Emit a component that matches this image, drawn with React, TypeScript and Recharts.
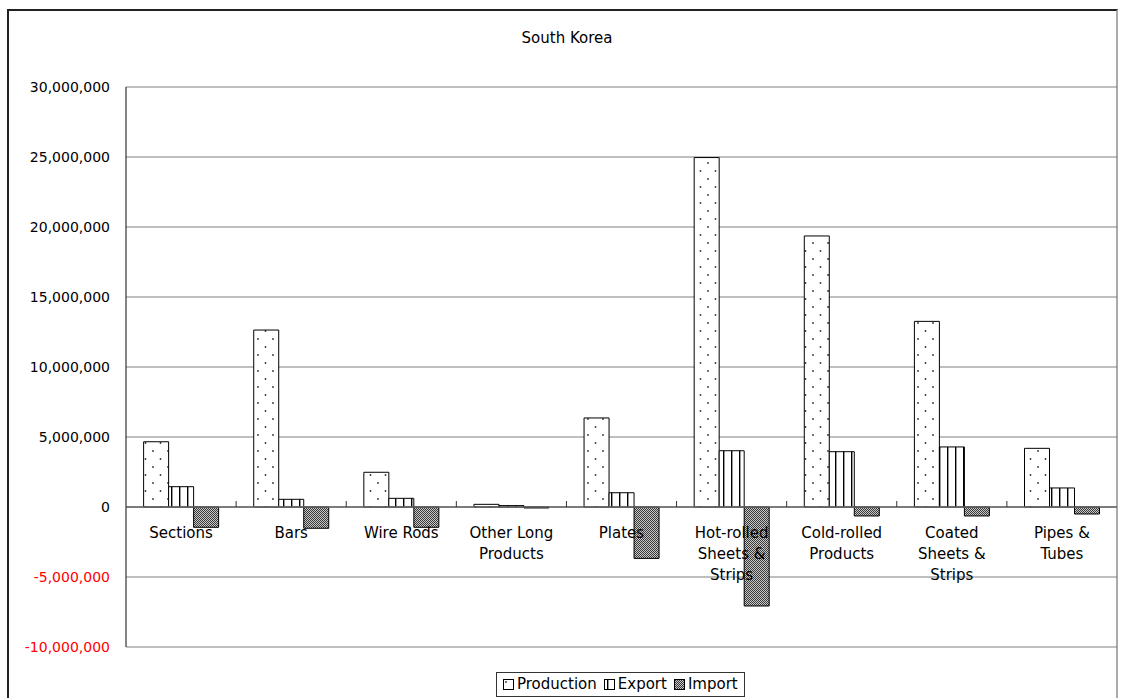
import { BarChart, Bar, XAxis, YAxis, CartesianGrid, Legend, ReferenceLine } from 'recharts';

// tonnes by product group
const categories = [
  'Sections',
  'Bars',
  'Wire Rods',
  'Other Long Products',
  'Plates',
  'Hot-rolled Sheets & Strips',
  'Cold-rolled Products',
  'Coated Sheets & Strips',
  'Pipes & Tubes',
];

// how each category name wraps under the zero line
const categoryLines = [
  ['Sections'],
  ['Bars'],
  ['Wire Rods'],
  ['Other Long', 'Products'],
  ['Plates'],
  ['Hot-rolled', 'Sheets &', 'Strips'],
  ['Cold-rolled', 'Products'],
  ['Coated', 'Sheets &', 'Strips'],
  ['Pipes &', 'Tubes'],
];

const production = [4660000, 12640000, 2480000, 190000, 6360000, 24960000, 19360000, 13260000, 4190000];
const exports = [1450000, 550000, 620000, 100000, 1020000, 4020000, 3950000, 4290000, 1360000];
const imports = [-1450000, -1520000, -1450000, -70000, -3670000, -7070000, -640000, -640000, -500000];

const yTicks = [-10000000, -5000000, 0, 5000000, 10000000, 15000000, 20000000, 25000000, 30000000];

const W = 1124;
const H = 698;
const X_AXIS_H = 20;
const M = { top: 87, right: 7, left: 0, bottom: 6 };
const Y_AXIS_W = 126;
const PLOT_H = 560;
const PLOT_W = W - Y_AXIS_W - M.right;
const Y_MIN = yTicks[0];
const Y_MAX = yTicks[yTicks.length - 1];
const ZERO_Y = M.top + (PLOT_H * Y_MAX) / (Y_MAX - Y_MIN);
const BAND = PLOT_W / categories.length;

const FONT = '"DejaVu Sans", sans-serif';

const data = categories.map((name, i) => ({
  name,
  production: production[i],
  export: exports[i],
  import: imports[i],
}));

const fmt = (v: number) => (v < 0 ? '-' : '') + Math.abs(v).toLocaleString('en-US');

const renderYTick = ({ x, y, payload }: any) => (
  <text
    x={x}
    y={y}
    dy={5}
    textAnchor="end"
    fontSize={14}
    fontFamily={FONT}
    fill={payload.value < 0 ? '#ff0000' : '#000'}
  >
    {fmt(payload.value)}
  </text>
);

// category labels sit under the zero line, with a small boundary tick between groups
const renderXTick = ({ x, payload }: any) => {
  const i = categories.indexOf(payload.value);
  const lines = categoryLines[i] ?? [payload.value];
  return (
    <g>
      {i < categories.length - 1 && (
        <line x1={x + BAND / 2} x2={x + BAND / 2} y1={ZERO_Y - 6} y2={ZERO_Y} stroke="#333" />
      )}
      <text textAnchor="middle" fontSize={15} fontFamily={FONT} fill="#000">
        {lines.map((ln: string, k: number) => (
          <tspan key={k} x={x} y={ZERO_Y + 31 + k * 21}>
            {ln}
          </tspan>
        ))}
      </text>
    </g>
  );
};

const Swatch = ({ fill }: { fill: string }) => (
  <svg width={11} height={11} style={{ marginRight: 3, verticalAlign: '-1px' }}>
    <rect x={0.5} y={0.5} width={10} height={10} fill={fill} stroke="#000" />
  </svg>
);

const LegendBox = () => (
  <div
    style={{
      display: 'inline-flex',
      alignItems: 'center',
      gap: 7,
      border: '1px solid #333',
      background: '#fff',
      padding: '2px 6px',
      fontFamily: FONT,
      fontSize: 15,
      lineHeight: '19px',
      whiteSpace: 'nowrap',
    }}
  >
    <span><Swatch fill="url(#dotFill)" />Production</span>
    <span><Swatch fill="url(#stripeFill)" />Export</span>
    <span><Swatch fill="url(#checkFill)" />Import</span>
  </div>
);

export default function App() {
  return (
    <div style={{ position: 'absolute', left: 0, top: 0, width: W, height: H, background: '#fff' }}>
      <style>{'body{margin:0}'}</style>
      {/* frame around the whole chart */}
      <div
        style={{
          position: 'absolute',
          left: 7,
          top: 9,
          width: W - 7 - 6,
          height: H + 20,
          borderLeft: '2px solid #222',
          borderTop: '2px solid #222',
          borderRight: '2px solid #aaa',
          boxSizing: 'border-box',
        }}
      />
      <div
        style={{
          position: 'absolute',
          top: 29,
          left: 0,
          width: 1134,
          textAlign: 'center',
          fontFamily: FONT,
          fontSize: 15,
        }}
      >
        South Korea
      </div>
      <BarChart
        width={W}
        height={H}
        data={data}
        margin={M}
        barCategoryGap="16%"
        barGap={0}
        style={{ position: 'absolute', left: 0, top: 0 }}
      >
        <defs>
          <pattern id="dotFill" width="15" height="16" patternUnits="userSpaceOnUse">
            <rect width="15" height="16" fill="#fff" />
            <circle cx="3" cy="3" r="0.9" fill="#333" />
            <circle cx="10.5" cy="11" r="0.9" fill="#333" />
          </pattern>
          <pattern id="stripeFill" width="8" height="8" patternUnits="userSpaceOnUse">
            <rect width="8" height="8" fill="#fff" />
            <rect x="3" y="0" width="1.4" height="8" fill="#000" />
          </pattern>
          <pattern id="checkFill" width="2" height="2" patternUnits="userSpaceOnUse">
            <rect width="2" height="2" fill="#c8c8c8" />
            <rect x="0" y="0" width="1" height="1" fill="#3a3a3a" />
            <rect x="1" y="1" width="1" height="1" fill="#3a3a3a" />
          </pattern>
        </defs>
        <CartesianGrid vertical={false} stroke="#808080" strokeWidth={1.2} />
        <YAxis
          width={Y_AXIS_W}
          domain={[Y_MIN, Y_MAX]}
          ticks={yTicks}
          interval={0}
          axisLine={{ stroke: '#333', strokeWidth: 1.2 }}
          tickLine={false}
          tickSize={6}
          tickMargin={10}
          tick={renderYTick}
        />
        <ReferenceLine y={0} stroke="#666" strokeWidth={1.4} />
        <Bar dataKey="production" name="Production" fill="url(#dotFill)" stroke="#000" strokeWidth={1} isAnimationActive={false} />
        <Bar dataKey="export" name="Export" fill="url(#stripeFill)" stroke="#000" strokeWidth={1} isAnimationActive={false} />
        <Bar dataKey="import" name="Import" fill="url(#checkFill)" stroke="#000" strokeWidth={1} isAnimationActive={false} />
        <XAxis
          dataKey="name"
          height={X_AXIS_H}
          axisLine={false}
          tickLine={false}
          interval={0}
          tick={renderXTick}
        />
        <Legend
          verticalAlign="bottom"
          content={<LegendBox />}
          wrapperStyle={{ left: 496, bottom: 1, width: 'auto' }}
        />
      </BarChart>
    </div>
  );
}
